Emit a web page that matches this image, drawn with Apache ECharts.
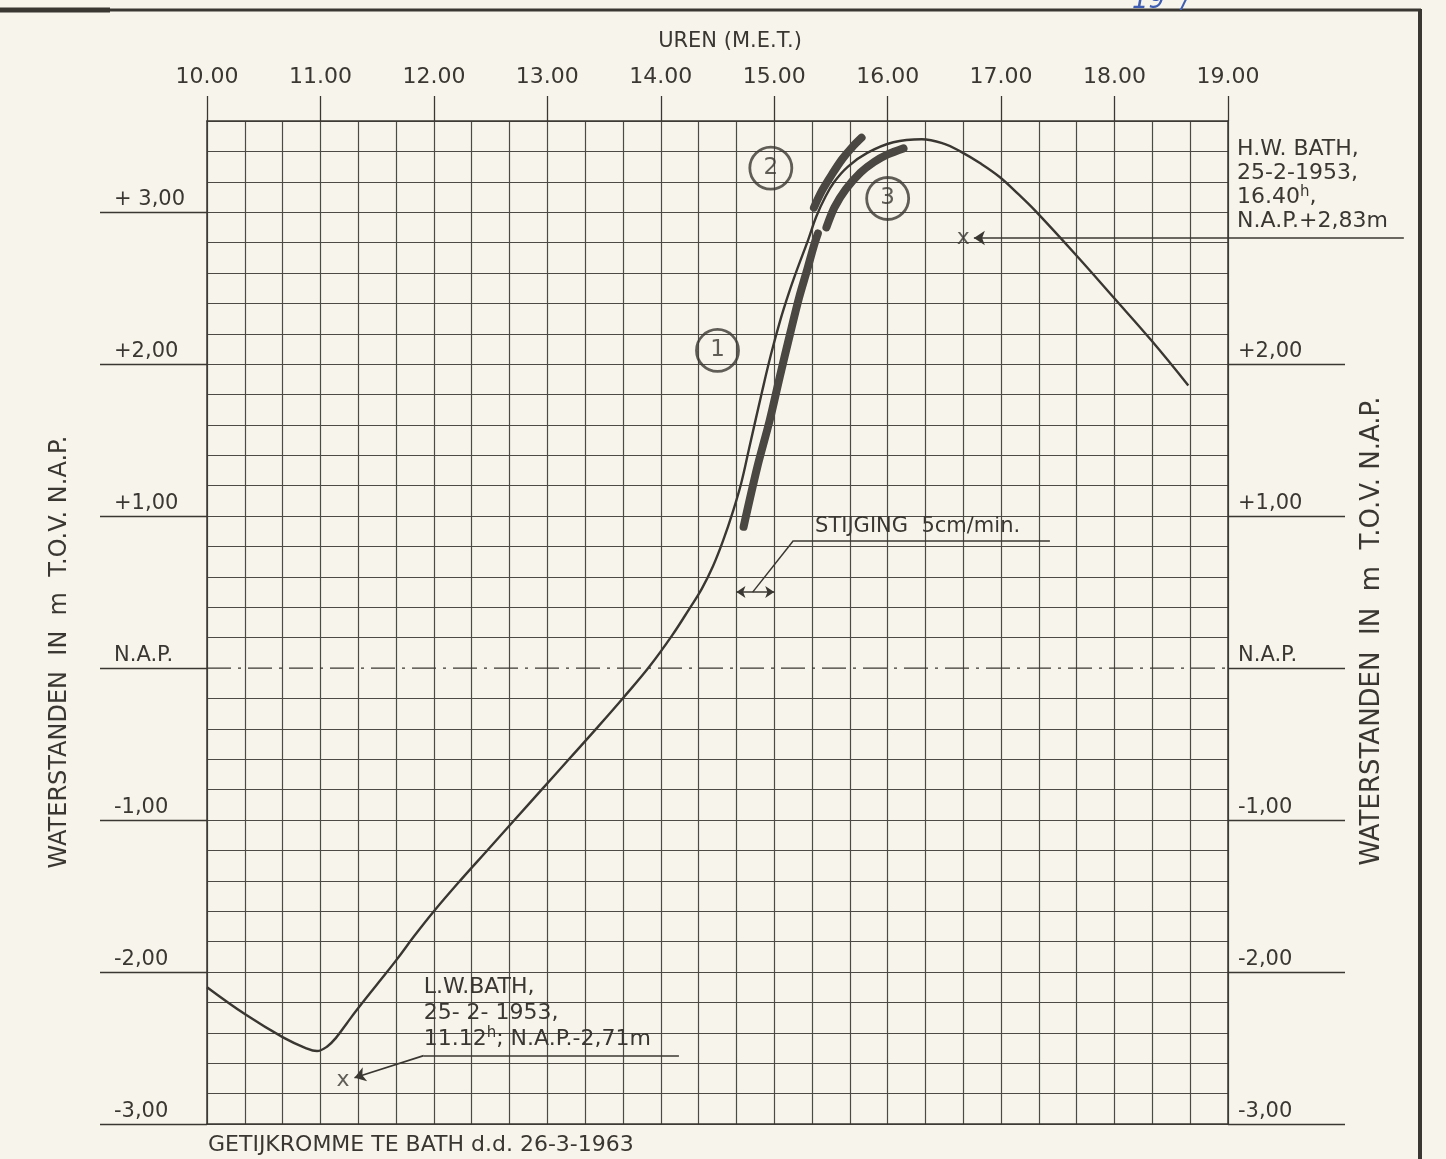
<!DOCTYPE html>
<html>
<head>
<meta charset="utf-8">
<script src="https://cdn.jsdelivr.net/npm/echarts@6/dist/echarts.min.js"></script>
<style>
html,body{margin:0;padding:0;background:#f7f5eb;}
#c{width:1446px;height:1159px;}
</style>
</head>
<body>
<div id="c"></div>
<script>
// ---------- data (time in hours, level in m t.o.v. N.A.P.) ----------
const hourValues = [10, 11, 12, 13, 14, 15, 16, 17, 18, 19];
const hourLabels = ['10.00','11.00','12.00','13.00','14.00','15.00','16.00','17.00','18.00','19.00'];
const leftLevels = [3, 2, 1, 0, -1, -2, -3];
const leftLabels = ['+ 3,00','+2,00','+1,00','N.A.P.','-1,00','-2,00','-3,00'];
const rightLevels = [2, 1, 0, -1, -2, -3];
const rightLabels = ['+2,00','+1,00','N.A.P.','-1,00','-2,00','-3,00'];

const curveTime  = [10.00, 10.34, 10.67, 10.87, 10.97, 11.06, 11.14, 11.23, 11.32, 11.50, 11.66, 11.83, 12.00, 12.23, 12.47, 12.71, 12.95, 13.19, 13.43, 13.67, 13.90, 14.10, 14.26, 14.36, 14.46, 14.55, 14.64, 14.71, 14.78, 14.89, 14.97, 15.05, 15.13, 15.21, 15.30, 15.37, 15.45, 15.53, 15.65, 15.82, 16.05, 16.30, 16.50, 16.64, 16.82, 16.99, 17.15, 17.30, 17.67, 17.99, 18.32, 18.65];
const curveLevel = [-2.10, -2.28, -2.43, -2.50, -2.52, -2.49, -2.43, -2.34, -2.25, -2.08, -1.93, -1.76, -1.60, -1.40, -1.20, -1.00, -0.80, -0.60, -0.40, -0.195, 0.01, 0.215, 0.40, 0.52, 0.67, 0.84, 1.04, 1.22, 1.45, 1.81, 2.06, 2.28, 2.47, 2.64, 2.82, 2.97, 3.10, 3.20, 3.30, 3.39, 3.46, 3.48, 3.45, 3.40, 3.32, 3.23, 3.12, 3.01, 2.71, 2.44, 2.16, 1.86];

const band1Time  = [14.73, 14.85, 14.96, 15.05, 15.14, 15.22, 15.29, 15.35, 15.385];
const band1Level = [0.93, 1.32, 1.63, 1.92, 2.20, 2.44, 2.62, 2.78, 2.86];
const band2Time  = [15.35, 15.42, 15.51, 15.60, 15.69, 15.77];
const band2Level = [3.03, 3.14, 3.25, 3.35, 3.43, 3.49];
const band3Time  = [15.46, 15.53, 15.63, 15.76, 15.88, 16.00, 16.14];
const band3Level = [2.90, 3.03, 3.15, 3.26, 3.33, 3.38, 3.42];

const circleTime  = [14.50, 14.97, 16.00];
const circleLevel = [2.09, 3.29, 3.09];
const circleLabel = ['1', '2', '3'];

const markTime  = [16.667, 11.20];   // H.W. and L.W. 25-2-1953
const markLevel = [2.83, -2.71];

const hwArrow     = [[16.76, 2.83], [20.55, 2.83]];
const lwArrow     = [[11.30, -2.695], [11.91, -2.55]];
const lwUnderline = [[11.91, -2.55], [14.16, -2.55]];
const rateArrow   = [[14.667, 0.50], [15.00, 0.50]];
const rateLeader  = [[14.81, 0.50], [15.17, 0.84]];
const rateLine    = [[15.17, 0.84], [17.43, 0.84]];

const hwTextAt   = [19.08, 3.49];
const lwTextAt   = [11.91, -2.015];
const rateTextAt = [15.36, 0.86];

// ---------- styling ----------
const INK = '#3a3732';
const GRID = '#4d4944';
const BAND = '#4a4641';
const FONT = 'DejaVu Sans';
const X0 = 600, X1 = 1140;   // minutes
const Y0 = -3, Y1 = 3.6;

const toXY = arr => arr.map(p => [p[0] * 60, p[1]]);
const zip = (t, v) => t.map((x, i) => [x * 60, v[i]]);

const splitColors = [];
for (let i = 0; i <= 33; i++) {
  const lv = Y0 + 0.2 * i;
  splitColors.push(Math.abs(lv) < 1e-6 ? 'rgba(0,0,0,0)' : GRID);
}

const chart = echarts.init(document.getElementById('c'), null, {renderer: 'canvas'});

const option = {
  backgroundColor: '#f7f5eb',
  animation: false,
  grid: {left: 207, right: 218, top: 121, bottom: 35},
  xAxis: [
    {
      type: 'value', min: X0, max: X1, interval: 20, position: 'bottom',
      axisLine: {show: true, onZero: false, lineStyle: {color: INK, width: 1.5}},
      axisTick: {show: false}, axisLabel: {show: false},
      splitLine: {show: true, lineStyle: {color: GRID, width: 1.2}}
    },
    {
      type: 'value', min: X0, max: X1, interval: 60, position: 'top',
      axisLine: {show: true, onZero: false, lineStyle: {color: INK, width: 1.5}},
      axisTick: {show: true, inside: false, length: 25, lineStyle: {color: INK, width: 1.3}},
      axisLabel: {
        show: true, margin: 33, fontFamily: FONT, fontSize: 22, color: INK,
        formatter: v => { const i = hourValues.indexOf(Math.round(v / 60)); return i >= 0 ? hourLabels[i] : ''; }
      },
      splitLine: {show: false}
    }
  ],
  yAxis: [
    {
      type: 'value', min: Y0, max: Y1, interval: 0.2, position: 'left',
      axisLine: {show: true, onZero: false, lineStyle: {color: INK, width: 1.5}},
      axisTick: {show: false}, axisLabel: {show: false},
      splitLine: {show: true, lineStyle: {color: splitColors, width: 1.2}}
    },
    {
      type: 'value', min: Y0, max: Y1, interval: 0.2, position: 'left',
      axisLine: {show: false},
      axisTick: {show: true, inside: false, length: 107, customValues: leftLevels, lineStyle: {color: INK, width: 1.3}},
      axisLabel: {
        show: true, customValues: leftLevels, margin: 93, align: 'left', verticalAlign: 'bottom',
        padding: [0, 0, 2, 0], fontFamily: FONT, fontSize: 21, color: INK,
        formatter: v => { const i = leftLevels.indexOf(Math.round(v)); return i >= 0 ? leftLabels[i] : ''; }
      },
      splitLine: {show: false}
    },
    {
      type: 'value', min: Y0, max: Y1, interval: 0.2, position: 'right',
      axisLine: {show: true, onZero: false, lineStyle: {color: INK, width: 1.5}},
      axisTick: {show: true, inside: false, length: 117, customValues: rightLevels, lineStyle: {color: INK, width: 1.3}},
      axisLabel: {
        show: true, customValues: rightLevels, margin: 10, align: 'left', verticalAlign: 'bottom',
        padding: [0, 0, 2, 0], fontFamily: FONT, fontSize: 21, color: INK,
        formatter: v => { const i = rightLevels.indexOf(Math.round(v)); return i >= 0 ? rightLabels[i] : ''; }
      },
      splitLine: {show: false}
    }
  ],
  series: [
    {
      name: 'NAP', type: 'line', xAxisIndex: 0, yAxisIndex: 0, silent: true, symbol: 'none',
      data: [[X0, 0], [X1, 0]],
      lineStyle: {color: INK, width: 1.4, type: [24, 7, 3, 7]}, z: 3
    },
    {
      name: 'band1', type: 'line', xAxisIndex: 0, yAxisIndex: 0, silent: true, symbol: 'none',
      smooth: 0.3, data: zip(band1Time, band1Level),
      lineStyle: {color: BAND, width: 8, cap: 'round'}, z: 4
    },
    {
      name: 'band2', type: 'line', xAxisIndex: 0, yAxisIndex: 0, silent: true, symbol: 'none',
      smooth: 0.3, data: zip(band2Time, band2Level),
      lineStyle: {color: BAND, width: 8, cap: 'round'}, z: 4
    },
    {
      name: 'band3', type: 'line', xAxisIndex: 0, yAxisIndex: 0, silent: true, symbol: 'none',
      smooth: 0.3, data: zip(band3Time, band3Level),
      lineStyle: {color: BAND, width: 8, cap: 'round'}, z: 4
    },
    {
      name: 'getij', type: 'line', xAxisIndex: 0, yAxisIndex: 0, silent: true, symbol: 'none',
      smooth: 0.4, data: zip(curveTime, curveLevel),
      lineStyle: {color: INK, width: 2.4}, z: 6
    },
    {
      name: 'circles', type: 'scatter', xAxisIndex: 0, yAxisIndex: 0, silent: true,
      symbol: 'circle', symbolSize: 42,
      data: circleTime.map((t, i) => [t * 60, circleLevel[i], circleLabel[i]]),
      itemStyle: {color: 'rgba(0,0,0,0)', borderColor: INK, borderWidth: 2.8},
      label: {show: true, position: 'inside', formatter: p => p.data[2], fontFamily: FONT, fontSize: 23, color: INK},
      z: 7
    },
    {
      name: 'marks', type: 'scatter', xAxisIndex: 0, yAxisIndex: 0, silent: true,
      symbol: 'circle', symbolSize: 1,
      data: zip(markTime, markLevel),
      itemStyle: {color: 'rgba(0,0,0,0)'},
      label: {show: true, position: 'inside', formatter: 'x', fontFamily: FONT, fontSize: 22, color: INK, padding: [0, 0, 4, 0]},
      z: 7
    },
    {
      name: 'arrows', type: 'lines', coordinateSystem: 'cartesian2d', xAxisIndex: 0, yAxisIndex: 0,
      clip: false, silent: true, symbol: ['arrow', 'none'], symbolSize: 11,
      lineStyle: {color: INK, width: 1.6, opacity: 1},
      data: [{coords: toXY(hwArrow)}, {coords: toXY(lwArrow)}], z: 7
    },
    {
      name: 'dimension', type: 'lines', coordinateSystem: 'cartesian2d', xAxisIndex: 0, yAxisIndex: 0,
      clip: false, silent: true, symbol: ['arrow', 'arrow'], symbolSize: 9,
      lineStyle: {color: INK, width: 1.6, opacity: 1},
      data: [{coords: toXY(rateArrow)}], z: 7
    },
    {
      name: 'leaders', type: 'lines', coordinateSystem: 'cartesian2d', xAxisIndex: 0, yAxisIndex: 0,
      clip: false, silent: true, symbol: ['none', 'none'],
      lineStyle: {color: INK, width: 1.5, opacity: 1},
      data: [{coords: toXY(lwUnderline)}, {coords: toXY(rateLeader)}, {coords: toXY(rateLine)}], z: 7
    }
  ]
};

chart.setOption(option);

const px = p => chart.convertToPixel({xAxisIndex: 0, yAxisIndex: 0}, [p[0] * 60, p[1]]);
const hw = px(hwTextAt), lw = px(lwTextAt), rt = px(rateTextAt);
const supRich = {s: {fontFamily: FONT, fontSize: 15, fill: INK, padding: [0, 0, 12, 0]}};

chart.setOption({
  graphic: [
    // frame
    {type: 'line', silent: true, shape: {x1: 0, y1: 10, x2: 1421, y2: 10}, style: {stroke: INK, lineWidth: 3}},
    {type: 'line', silent: true, shape: {x1: 0, y1: 10, x2: 110, y2: 10}, style: {stroke: INK, lineWidth: 5}},
    {type: 'line', silent: true, shape: {x1: 1420, y1: 9, x2: 1420, y2: 1159}, style: {stroke: INK, lineWidth: 4}},
    // hand-written blue note at the top edge
    {type: 'text', silent: true, style: {x: 1132, y: -12, text: '19  /', font: 'italic 26px ' + FONT, fill: '#3e5db3'}},
    // titles
    {type: 'text', silent: true, style: {x: 730, y: 42, text: 'UREN (M.E.T.)', font: '21px ' + FONT, fill: INK, align: 'center', verticalAlign: 'middle'}},
    {type: 'text', silent: true, style: {x: 208, y: 1156, text: 'GETIJKROMME TE BATH d.d. 26-3-1963', font: '22px ' + FONT, fill: INK, align: 'left', verticalAlign: 'bottom'}},
    {type: 'text', silent: true, x: 60, y: 652, rotation: Math.PI / 2,
      style: {x: 0, y: 0, text: 'WATERSTANDEN  IN  m  T.O.V. N.A.P.', font: '24px ' + FONT, fill: INK, align: 'center', verticalAlign: 'middle'}},
    {type: 'text', silent: true, x: 1372, y: 631, rotation: Math.PI / 2,
      style: {x: 0, y: 0, text: 'WATERSTANDEN  IN  m  T.O.V. N.A.P.', font: '26px ' + FONT, fill: INK, align: 'center', verticalAlign: 'middle'}},
    // annotations
    {type: 'text', silent: true, style: {x: hw[0], y: hw[1], text: 'H.W. BATH,\n25-2-1953,\n16.40{s|h},\nN.A.P.+2,83m',
      font: '22px ' + FONT, fill: INK, lineHeight: 24, align: 'left', verticalAlign: 'top', rich: supRich}},
    {type: 'text', silent: true, style: {x: lw[0], y: lw[1], text: 'L.W.BATH,\n25- 2- 1953,\n11.12{s|h}; N.A.P.-2,71m',
      font: '22px ' + FONT, fill: INK, lineHeight: 26, align: 'left', verticalAlign: 'top', rich: supRich}},
    {type: 'text', silent: true, style: {x: rt[0], y: rt[1], text: 'STIJGING  5cm/min.',
      font: '21px ' + FONT, fill: INK, align: 'left', verticalAlign: 'bottom'}}
  ]
});
</script>
</body>
</html>
